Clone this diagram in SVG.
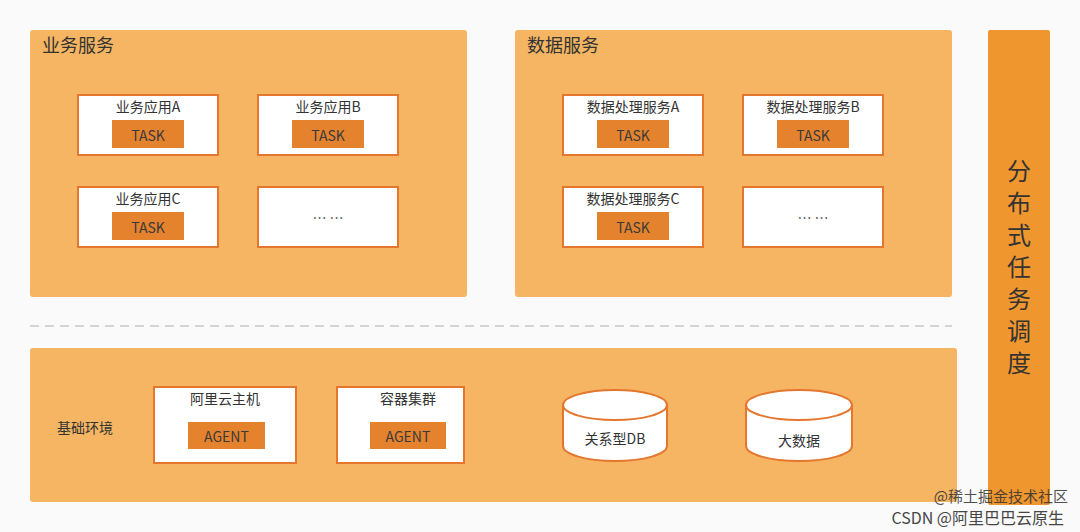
<svg xmlns="http://www.w3.org/2000/svg" width="1080" height="532" viewBox="0 0 1080 532">
<style>
text{font-family:"Noto Sans CJK SC","Liberation Sans",sans-serif;fill:#333}
.panel{fill:#F5B562}
.box{fill:#fff;stroke:#E5762E;stroke-width:2}
.task{fill:#E5822E}
.lbl{font-size:14px;text-anchor:middle}
.tt{font-size:14px;text-anchor:middle;fill:#3a3a3a}
.title{font-size:18px}
</style>
<rect width="1080" height="532" fill="#fafafa"/>
<g id="biz">
<rect class="panel" x="30" y="30" width="437" height="267" rx="3"/>
<text class="title" x="42" y="52">业务服务</text>
</g>
<g id="bizA"><rect class="box" x="78" y="95" width="140" height="60"/><text class="lbl" x="148" y="112">业务应用A</text><rect class="task" x="112" y="120" width="72" height="28"/><text class="tt" x="148" y="141">TASK</text></g>
<g id="bizB"><rect class="box" x="258" y="95" width="140" height="60"/><text class="lbl" x="328" y="112">业务应用B</text><rect class="task" x="292" y="120" width="72" height="28"/><text class="tt" x="328" y="141">TASK</text></g>
<g id="bizC"><rect class="box" x="78" y="187" width="140" height="60"/><text class="lbl" x="148" y="204">业务应用C</text><rect class="task" x="112" y="212" width="72" height="28"/><text class="tt" x="148" y="233">TASK</text></g>
<g id="bizMore"><rect class="box" x="258" y="187" width="140" height="60"/><text class="lbl" x="328" y="223">… …</text></g>
<g id="data">
<rect class="panel" x="515" y="30" width="437" height="267" rx="3"/>
<text class="title" x="527" y="52">数据服务</text>
</g>
<g id="dataA"><rect class="box" x="563" y="95" width="140" height="60"/><text class="lbl" x="633" y="112">数据处理服务A</text><rect class="task" x="597" y="120" width="72" height="28"/><text class="tt" x="633" y="141">TASK</text></g>
<g id="dataB"><rect class="box" x="743" y="95" width="140" height="60"/><text class="lbl" x="813" y="112">数据处理服务B</text><rect class="task" x="777" y="120" width="72" height="28"/><text class="tt" x="813" y="141">TASK</text></g>
<g id="dataC"><rect class="box" x="563" y="187" width="140" height="60"/><text class="lbl" x="633" y="204">数据处理服务C</text><rect class="task" x="597" y="212" width="72" height="28"/><text class="tt" x="633" y="233">TASK</text></g>
<g id="dataMore"><rect class="box" x="743" y="187" width="140" height="60"/><text class="lbl" x="813" y="223">… …</text></g>
<g id="connectors"><line x1="30" y1="326" x2="952" y2="326" stroke="#c8c8c8" stroke-width="1.5" stroke-dasharray="9,6"/></g>
<g id="infra">
<rect class="panel" x="30" y="348" width="927" height="154" rx="3"/>
<text x="57" y="433" font-size="14">基础环境</text>
</g>
<g id="ecs"><rect class="box" x="154" y="387" width="142" height="76"/><text class="lbl" x="225" y="404">阿里云主机</text><rect class="task" x="188" y="422" width="77" height="27"/><text class="tt" x="226.5" y="442">AGENT</text></g>
<g id="k8s"><rect class="box" x="337" y="387" width="127" height="76"/><text class="lbl" x="408" y="404">容器集群</text><rect class="task" x="370" y="422" width="76" height="27"/><text class="tt" x="408" y="442">AGENT</text></g>
<g id="db"><path d="M563,405 V446 A52,15 0 0 0 667,446 V405 A52,15 0 0 0 563,405 A52,15 0 0 0 667,405" fill="#fff" stroke="#E5762E" stroke-width="2"/><text class="lbl" x="615" y="444">关系型DB</text></g>
<g id="bigdata"><path d="M746,405 V446 A53,15 0 0 0 852,446 V405 A53,15 0 0 0 746,405 A53,15 0 0 0 852,405" fill="#fff" stroke="#E5762E" stroke-width="2"/><text class="lbl" x="799" y="446">大数据</text></g>
<g id="sched">
<rect x="988" y="30" width="62" height="475" fill="#F0962E" rx="2"/>
<g font-size="24" text-anchor="middle"><text x="1019" y="180">分</text><text x="1019" y="212">布</text><text x="1019" y="244">式</text><text x="1019" y="276">任</text><text x="1019" y="308">务</text><text x="1019" y="340">调</text><text x="1019" y="372">度</text></g>
</g>
<text x="1068" y="502" font-size="15" text-anchor="end" fill="#ffffff" opacity="0.85">@稀土掘金技术社区</text>
<text x="1064" y="524" font-size="16" text-anchor="end" fill="#888" opacity="0.9">CSDN @阿里巴巴云原生</text>
</svg>
